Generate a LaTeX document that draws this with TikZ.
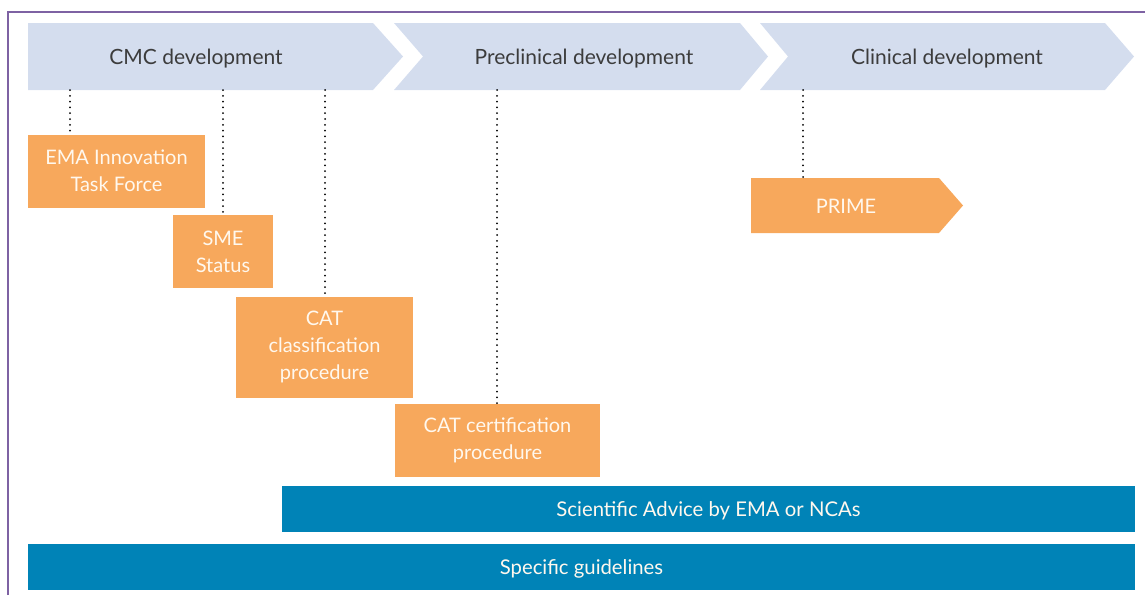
\documentclass[tikz,border=0pt]{standalone}
\usepackage{fontspec}
\setmainfont{Lato}
\usetikzlibrary{calc}
\definecolor{chev}{HTML}{D4DDEE}
\definecolor{org}{HTML}{F7A85C}
\definecolor{blu}{HTML}{0083B7}
\definecolor{framec}{HTML}{7E62A3}
\definecolor{dtxt}{HTML}{3C3C3C}
\definecolor{ltxt}{HTML}{FFF8EE}
\begin{document}
\begin{tikzpicture}[x=1pt,y=-1pt,
  head/.style={text=dtxt, font=\fontsize{21}{24}\selectfont, inner sep=0pt},
  orgbox/.style={fill=org, text=ltxt, align=center, inner sep=0pt, font=\fontsize{20}{27}\selectfont},
  blubox/.style={fill=blu, minimum height=46pt},
  blutext/.style={text=ltxt, inner sep=0pt, font=\fontsize{20.3}{23}\selectfont},
  dotconn/.style={draw=black, line width=2pt, line cap=round, dash pattern=on 0pt off 5.8pt}]
\useasboundingbox (0,0) rectangle (1145,595);
% frame
\draw[framec, line width=1.5pt] (8,595) -- (8,12) -- (1145,12);
% chevrons
\fill[chev] (28,23) -- (373,23) -- (403,56.5) -- (373,90) -- (28,90) -- cycle;
\fill[chev] (394,23) -- (740,23) -- (768,56.5) -- (740,90) -- (394,90) -- (423,56.5) -- cycle;
\fill[chev] (760,23) -- (1105,23) -- (1134,56.5) -- (1105,90) -- (760,90) -- (788,56.5) -- cycle;
\node[head] (cmc) at (196,58.5) {CMC development};
\node[head] (pre) at (584,58.5) {Preclinical development};
\node[head] (cli) at (947,58.5) {Clinical development};
% connector starts on the chevron bottoms
\coordinate (d1) at (70,90);
\coordinate (d2) at (223,90);
\coordinate (d3) at (325,90);
\coordinate (d4) at (497,90);
\coordinate (d5) at (803,90);
% orange boxes
\node[orgbox, minimum width=177pt, minimum height=73pt] (ema) at (116.5,171) {EMA Innovation\\Task Force};
\node[orgbox, minimum width=100pt, minimum height=73pt] (sme) at (223,251.5) {SME\\Status};
\node[orgbox, minimum width=177pt, minimum height=101pt] (catc) at (324.5,347) {CAT\\classification\\procedure};
\node[orgbox, minimum width=205pt, minimum height=73pt] (catr) at (497.5,440.5) {CAT certification\\procedure};
\fill[org] (751,178) -- (939,178) -- (963,205.5) -- (939,233) -- (751,233) -- cycle;
\node[text=ltxt, inner sep=0pt, font=\fontsize{20}{23}\selectfont] (prime) at (846,206) {PRIME};
\coordinate (primetop) at (803,178);
% dotted connectors
\draw[dotconn] (d1) -- (d1 |- ema.north);
\draw[dotconn] (d2) -- (d2 |- sme.north);
\draw[dotconn] (d3) -- (d3 |- catc.north);
\draw[dotconn] (d4) -- (d4 |- catr.north);
\draw[dotconn] (d5) -- (primetop);
% blue bars
\node[blubox, minimum width=853pt] (sci) at (708.5,509) {};
\node[blutext] (scit) at (708.5,510.5) {Scientific Advice by EMA or NCAs};
\node[blubox, minimum width=1107pt] (spec) at (581.5,567) {};
\node[blutext] (spect) at (581.5,569) {Specific guidelines};
\end{tikzpicture}
\end{document}
